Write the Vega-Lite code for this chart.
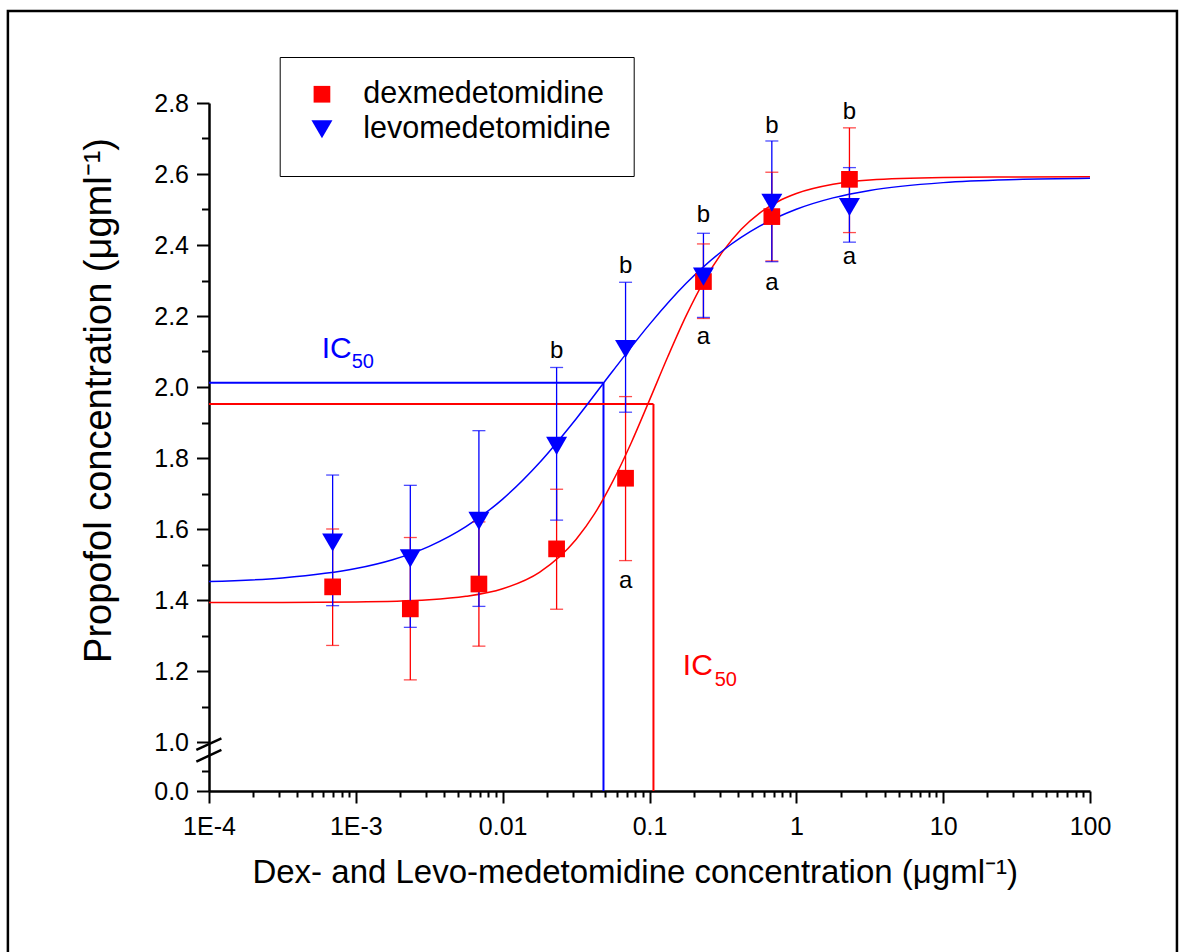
{
  "$schema": "https://vega.github.io/schema/vega-lite/v6.json",
  "width": 881,
  "height": 688,
  "autosize": {"type": "none"},
  "padding": {"left": 209, "top": 103, "right": 89, "bottom": 161},
  "background": "white",
  "config": {
    "view": {"stroke": null},
    "font": "Liberation Sans",
    "axis": {"grid": false, "domainColor": "black", "domainWidth": 2.5, "tickColor": "black", "tickWidth": 2, "labelColor": "black", "titleColor": "black", "labelFont": "Liberation Sans", "titleFont": "Liberation Sans", "titleFontWeight": "normal"}
  },
  "datasets": {
    "frame": [{"x": 0.00000427, "x2": 391, "y": 3.059, "y2": -4.5}],
    "ic50": [
      {"series": "levomedetomidine", "x": 0.0001, "x2": 0.0486, "y": 2.012, "y2": 2.012},
      {"series": "levomedetomidine", "x": 0.0486, "x2": 0.0486, "y": 0, "y2": 2.012},
      {"series": "dexmedetomidine", "x": 0.0001, "x2": 0.1064, "y": 1.952, "y2": 1.952},
      {"series": "dexmedetomidine", "x": 0.1064, "x2": 0.1064, "y": 0, "y2": 1.952}
    ],
    "brk": [
      {"x": 0.000082, "x2": 0.0001215, "y": 0.837, "y2": 1.0104},
      {"x": 0.000082, "x2": 0.0001215, "y": 0.598, "y2": 0.837}
    ],
    "curves": [
      {"series": "dexmedetomidine", "x": 0.0001, "y": 1.393},
      {"series": "dexmedetomidine", "x": 0.000316, "y": 1.3933},
      {"series": "dexmedetomidine", "x": 0.001, "y": 1.3945},
      {"series": "dexmedetomidine", "x": 0.00316, "y": 1.4007},
      {"series": "dexmedetomidine", "x": 0.00562, "y": 1.4103},
      {"series": "dexmedetomidine", "x": 0.01, "y": 1.4317},
      {"series": "dexmedetomidine", "x": 0.0178, "y": 1.478},
      {"series": "dexmedetomidine", "x": 0.0316, "y": 1.5705},
      {"series": "dexmedetomidine", "x": 0.0422, "y": 1.6425},
      {"series": "dexmedetomidine", "x": 0.0562, "y": 1.734},
      {"series": "dexmedetomidine", "x": 0.075, "y": 1.8424},
      {"series": "dexmedetomidine", "x": 0.1, "y": 1.963},
      {"series": "dexmedetomidine", "x": 0.1334, "y": 2.0858},
      {"series": "dexmedetomidine", "x": 0.1778, "y": 2.201},
      {"series": "dexmedetomidine", "x": 0.2371, "y": 2.3011},
      {"series": "dexmedetomidine", "x": 0.3162, "y": 2.382},
      {"series": "dexmedetomidine", "x": 0.4217, "y": 2.4444},
      {"series": "dexmedetomidine", "x": 0.5623, "y": 2.49},
      {"series": "dexmedetomidine", "x": 0.7499, "y": 2.5226},
      {"series": "dexmedetomidine", "x": 1, "y": 2.545},
      {"series": "dexmedetomidine", "x": 1.778, "y": 2.571},
      {"series": "dexmedetomidine", "x": 3.162, "y": 2.583},
      {"series": "dexmedetomidine", "x": 10, "y": 2.59},
      {"series": "dexmedetomidine", "x": 31.62, "y": 2.5917},
      {"series": "dexmedetomidine", "x": 100, "y": 2.592},
      {"series": "levomedetomidine", "x": 0.0001, "y": 1.452},
      {"series": "levomedetomidine", "x": 0.000316, "y": 1.4622},
      {"series": "levomedetomidine", "x": 0.001, "y": 1.4885},
      {"series": "levomedetomidine", "x": 0.00178, "y": 1.5135},
      {"series": "levomedetomidine", "x": 0.00316, "y": 1.5512},
      {"series": "levomedetomidine", "x": 0.00562, "y": 1.6067},
      {"series": "levomedetomidine", "x": 0.01, "y": 1.6843},
      {"series": "levomedetomidine", "x": 0.0178, "y": 1.7867},
      {"series": "levomedetomidine", "x": 0.0316, "y": 1.91},
      {"series": "levomedetomidine", "x": 0.0562, "y": 2.045},
      {"series": "levomedetomidine", "x": 0.1, "y": 2.1764},
      {"series": "levomedetomidine", "x": 0.1778, "y": 2.292},
      {"series": "levomedetomidine", "x": 0.3162, "y": 2.3846},
      {"series": "levomedetomidine", "x": 0.5623, "y": 2.453},
      {"series": "levomedetomidine", "x": 1, "y": 2.5007},
      {"series": "levomedetomidine", "x": 1.778, "y": 2.5328},
      {"series": "levomedetomidine", "x": 3.162, "y": 2.5537},
      {"series": "levomedetomidine", "x": 10, "y": 2.5757},
      {"series": "levomedetomidine", "x": 31.62, "y": 2.5844},
      {"series": "levomedetomidine", "x": 100, "y": 2.5878}
    ],
    "points": [
      {"series": "dexmedetomidine", "x": 0.000695, "y": 1.437, "lo": 1.272, "hi": 1.6},
      {"series": "dexmedetomidine", "x": 0.00235, "y": 1.375, "lo": 1.175, "hi": 1.576},
      {"series": "dexmedetomidine", "x": 0.00689, "y": 1.445, "lo": 1.27, "hi": 1.62},
      {"series": "dexmedetomidine", "x": 0.0233, "y": 1.544, "lo": 1.374, "hi": 1.712},
      {"series": "dexmedetomidine", "x": 0.0687, "y": 1.743, "lo": 1.511, "hi": 1.973},
      {"series": "dexmedetomidine", "x": 0.233, "y": 2.297, "lo": 2.193, "hi": 2.403},
      {"series": "dexmedetomidine", "x": 0.681, "y": 2.48, "lo": 2.355, "hi": 2.605},
      {"series": "dexmedetomidine", "x": 2.3, "y": 2.585, "lo": 2.435, "hi": 2.73},
      {"series": "levomedetomidine", "x": 0.000695, "y": 1.562, "lo": 1.384, "hi": 1.752},
      {"series": "levomedetomidine", "x": 0.00235, "y": 1.517, "lo": 1.323, "hi": 1.723},
      {"series": "levomedetomidine", "x": 0.00689, "y": 1.623, "lo": 1.382, "hi": 1.877},
      {"series": "levomedetomidine", "x": 0.0233, "y": 1.834, "lo": 1.625, "hi": 2.055},
      {"series": "levomedetomidine", "x": 0.0687, "y": 2.107, "lo": 1.929, "hi": 2.295},
      {"series": "levomedetomidine", "x": 0.233, "y": 2.311, "lo": 2.196, "hi": 2.433},
      {"series": "levomedetomidine", "x": 0.681, "y": 2.519, "lo": 2.353, "hi": 2.693},
      {"series": "levomedetomidine", "x": 2.3, "y": 2.507, "lo": 2.408, "hi": 2.618}
    ],
    "letters": [
      {"x": 0.0233, "y": 2.082, "text": "b"},
      {"x": 0.0687, "y": 2.321, "text": "b"},
      {"x": 0.233, "y": 2.466, "text": "b"},
      {"x": 0.681, "y": 2.716, "text": "b"},
      {"x": 2.3, "y": 2.754, "text": "b"},
      {"x": 0.0687, "y": 1.434, "text": "a"},
      {"x": 0.233, "y": 2.121, "text": "a"},
      {"x": 0.681, "y": 2.273, "text": "a"},
      {"x": 2.3, "y": 2.346, "text": "a"}
    ],
    "iclabels": [
      {"series": "levomedetomidine", "part": "main", "x": 0.000586, "y": 2.082, "text": "IC"},
      {"series": "levomedetomidine", "part": "sub", "x": 0.000937, "y": 2.054, "text": "50"},
      {"series": "dexmedetomidine", "part": "main", "x": 0.1687, "y": 1.189, "text": "IC"},
      {"series": "dexmedetomidine", "part": "sub", "x": 0.278, "y": 1.158, "text": "50"}
    ]
  },
  "encoding": {
    "x": {
      "field": "x", "type": "quantitative",
      "scale": {"type": "log", "domain": [0.0001, 100], "nice": false},
      "axis": {
        "title": "Dex- and Levo-medetomidine concentration (μgml⁻¹)",
        "titleFontSize": 33, "titleX": 425.7, "titleY": 91, "titleAlign": "center", "titleBaseline": "alphabetic",
        "values": [0.0001,0.0002,0.0003,0.0004,0.0005,0.0006,0.0007,0.0008,0.0009,0.001,0.002,0.003,0.004,0.005,0.006,0.007,0.008,0.009,0.01,0.02,0.03,0.04,0.05,0.06,0.07,0.08,0.09,0.1,0.2,0.3,0.4,0.5,0.6,0.7,0.8,0.9,1,2,3,4,5,6,7,8,9,10,20,30,40,50,60,70,80,90,100],
        "labelExpr": "datum.value == 0.0001 ? '1E-4' : datum.value == 0.001 ? '1E-3' : datum.value == 0.01 ? '0.01' : datum.value == 0.1 ? '0.1' : datum.value == 1 ? '1' : datum.value == 10 ? '10' : datum.value == 100 ? '100' : ''",
        "tickSize": {"condition": {"test": "indexof([0.0001,0.001,0.01,0.1,1,10,100], datum.value) >= 0", "value": 12}, "value": 6},
        "labelFontSize": 25, "labelPadding": 11, "labelFlush": false, "labelOverlap": false, "labelBound": false
      }
    },
    "y": {
      "field": "y", "type": "quantitative",
      "scale": {"domain": [0, 1, 2.8], "range": [688, 639, 0], "nice": false, "zero": false},
      "axis": {
        "title": "Propofol concentration (μgml⁻¹)",
        "titleFontSize": 38, "titleX": -99, "titleY": 297, "titleAlign": "center", "titleBaseline": "alphabetic", "titleAngle": 270,
        "values": [0, 0.4, 1, 1.1, 1.2, 1.3, 1.4, 1.5, 1.6, 1.7, 1.8, 1.9, 2, 2.1, 2.2, 2.3, 2.4, 2.5, 2.6, 2.7, 2.8],
        "labelExpr": "(datum.value == 0 || (datum.value >= 1 && abs(datum.value * 5 - round(datum.value * 5)) < 0.001)) ? format(datum.value, '.1f') : ''",
        "tickSize": {"condition": {"test": "datum.value == 0 || (datum.value >= 1 && abs(datum.value * 5 - round(datum.value * 5)) < 0.001)", "value": 12.5}, "value": 7.5},
        "labelFontSize": 25, "labelPadding": 8, "labelFlush": false, "labelOverlap": false, "labelBound": false
      }
    }
  },
  "layer": [
    {
      "data": {"name": "frame"},
      "mark": {"type": "rect", "fill": null, "stroke": "black", "strokeWidth": 2.5},
      "encoding": {"x2": {"field": "x2"}, "y2": {"field": "y2"}}
    },
    {
      "data": {"name": "ic50"},
      "mark": {"type": "rule", "strokeWidth": 2},
      "encoding": {
        "x2": {"field": "x2"}, "y2": {"field": "y2"},
        "stroke": {"field": "series", "type": "nominal", "scale": {"domain": ["levomedetomidine", "dexmedetomidine"], "range": ["#0000ff", "#ff0000"]}, "legend": null}
      }
    },
    {
      "data": {"name": "curves"},
      "mark": {"type": "line", "strokeWidth": 1.5, "interpolate": "monotone"},
      "encoding": {
        "detail": {"field": "series"},
        "stroke": {"field": "series", "type": "nominal", "legend": null}
      }
    },
    {
      "data": {"name": "points"},
      "mark": {"type": "rule", "strokeWidth": 1.3},
      "encoding": {
        "y": {"field": "lo", "type": "quantitative"},
        "y2": {"field": "hi"},
        "stroke": {"field": "series", "type": "nominal", "legend": null}
      }
    },
    {
      "data": {"name": "points"},
      "mark": {"type": "tick", "orient": "horizontal", "size": 13, "thickness": 1.3},
      "encoding": {
        "y": {"field": "lo", "type": "quantitative"},
        "fill": {"field": "series", "type": "nominal", "scale": {"domain": ["levomedetomidine", "dexmedetomidine"], "range": ["#0000ff", "#ff0000"]}, "legend": null}
      }
    },
    {
      "data": {"name": "points"},
      "mark": {"type": "tick", "orient": "horizontal", "size": 13, "thickness": 1.3},
      "encoding": {
        "y": {"field": "hi", "type": "quantitative"},
        "fill": {"field": "series", "type": "nominal", "legend": null}
      }
    },
    {
      "data": {"name": "points"},
      "mark": {"type": "point", "filled": true, "opacity": 1, "strokeWidth": 0},
      "encoding": {
        "color": {
          "field": "series", "type": "nominal",
          "scale": {"domain": ["dexmedetomidine", "levomedetomidine"], "range": ["#ff0000", "#0000ff"]},
          "legend": {
            "title": " ", "titleOrient": "bottom", "titleFontSize": 5, "titlePadding": 4,
            "orient": "none", "legendX": 70.7, "legendY": -46,
            "strokeColor": "black", "padding": 22,
            "labelFontSize": 30.5, "labelOffset": 26, "labelColor": "black", "labelFont": "Liberation Sans", "labelLimit": 0,
            "symbolOffset": 5, "rowPadding": 4
          }
        },
        "shape": {"field": "series", "type": "nominal", "scale": {"domain": ["dexmedetomidine", "levomedetomidine"], "range": ["square", "triangle-down"]}},
        "size": {"field": "series", "type": "nominal", "scale": {"domain": ["dexmedetomidine", "levomedetomidine"], "range": [279, 441]}}
      }
    },
    {
      "data": {"name": "letters"},
      "mark": {"type": "text", "fontSize": 24, "align": "center", "baseline": "alphabetic", "color": "black", "font": "Liberation Sans"},
      "encoding": {"text": {"field": "text"}}
    },
    {
      "data": {"name": "iclabels"},
      "transform": [{"filter": "datum.part == 'main'"}],
      "mark": {"type": "text", "fontSize": 30, "align": "left", "baseline": "alphabetic", "font": "Liberation Sans"},
      "encoding": {"text": {"field": "text"}, "fill": {"field": "series", "type": "nominal", "legend": null}}
    },
    {
      "data": {"name": "iclabels"},
      "transform": [{"filter": "datum.part == 'sub'"}],
      "mark": {"type": "text", "fontSize": 20, "align": "left", "baseline": "alphabetic", "font": "Liberation Sans"},
      "encoding": {"text": {"field": "text"}, "fill": {"field": "series", "type": "nominal", "legend": null}}
    },
    {
      "data": {"name": "brk"},
      "mark": {"type": "rule", "strokeWidth": 2.5, "color": "black"},
      "encoding": {"x2": {"field": "x2"}, "y2": {"field": "y2"}}
    }
  ]
}
